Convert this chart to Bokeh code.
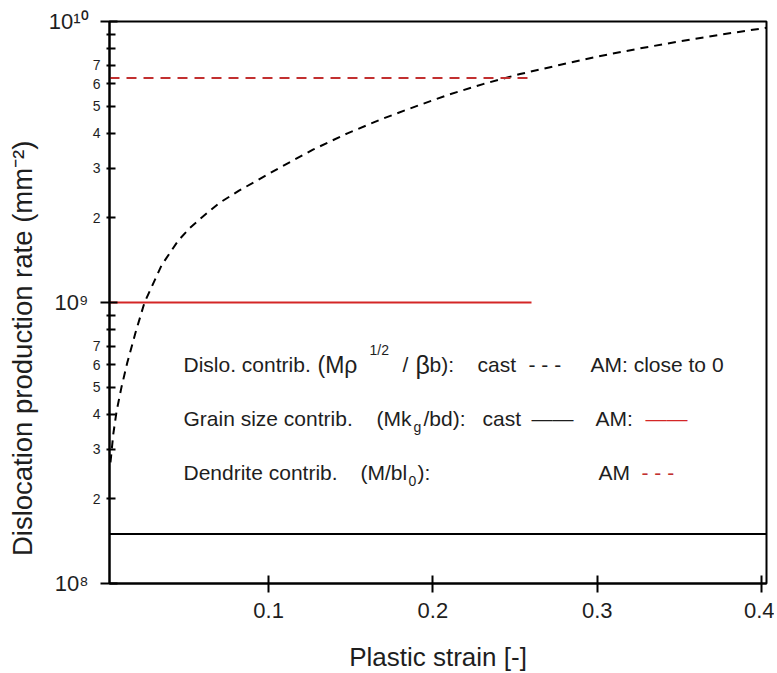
from bokeh.plotting import figure
from bokeh.models import FixedTicker, Label, Range1d, LogAxis
from bokeh.embed import file_html
from bokeh.resources import INLINE

# ---------------- data ----------------
strain_cast = [0.0038, 0.0055, 0.0075, 0.0105, 0.014, 0.019, 0.0245, 0.035, 0.045,
               0.052, 0.059, 0.07, 0.082, 0.106, 0.127, 0.148, 0.169, 0.19, 0.21,
               0.231, 0.253, 0.277, 0.30, 0.325, 0.35, 0.376, 0.403]
disloc_cast = [2.7e8, 3.4e8, 4.1e8, 5.0e8, 6.1e8, 7.8e8, 1.0e9, 1.36e9, 1.66e9,
               1.84e9, 2.0e9, 2.26e9, 2.5e9, 3.0e9, 3.5e9, 4.0e9, 4.5e9, 5.0e9, 5.5e9,
               6.0e9, 6.5e9, 7.0e9, 7.5e9, 8.0e9, 8.5e9, 9.0e9, 9.5e9]

grain_cast_strain = [0.0032, 0.403]
grain_cast_rate = [1.5e8, 1.5e8]

am_strain = [0.0032, 0.26]
grain_am_rate = [1.0e9, 1.0e9]
dendrite_am_rate = [6.3e9, 6.3e9]

x_ticks = [0.1, 0.2, 0.3, 0.4]
y_major = [1e8, 1e9, 1e10]
y_major_labels = ["10\u2078", "10\u2079", "10\u00b9\u2070"]
y_minor = [m * d for d in (1e8, 1e9) for m in range(2, 10)]
y_minor_lab_vals = [m * d for d in (1e8, 1e9) for m in range(2, 8)]
y_minor_lab_text = [str(m) for d in (1e8, 1e9) for m in range(2, 8)]

X0, X1 = 0.0032, 0.403
Y0, Y1 = 1e8, 1e10

FONT = "Liberation Sans"
TXT = "#1e1e1e"
RED = "#d42626"
RED_D = "#c23030"

p = figure(frame_width=657, frame_height=562, y_axis_type="log",
           x_range=Range1d(X0, X1), y_range=Range1d(Y0, Y1),
           output_backend="svg", toolbar_location=None,
           min_border_left=109, min_border_top=21, min_border_right=8,
           min_border_bottom=82)
p.background_fill_color = "white"
p.border_fill_color = "white"
p.xgrid.visible = False
p.ygrid.visible = False
p.outline_line_color = "black"
p.outline_line_width = 2
p.outline_line_alpha = 1

# data lines
p.line(strain_cast, disloc_cast, line_color="black", line_width=2, line_dash="8 6")
p.line(grain_cast_strain, grain_cast_rate, line_color="black", line_width=2)
p.line(am_strain, grain_am_rate, line_color=RED, line_width=2)
p.line(am_strain, dendrite_am_rate, line_color=RED_D, line_width=2, line_dash="10 7")

# x axis
xa = p.xaxis[0]
xa.axis_line_width = 2
xa.major_tick_line_width = 2
xa.major_tick_in = 8
xa.major_tick_out = 9
xa.ticker = FixedTicker(ticks=x_ticks)
xa.major_label_text_font = FONT
xa.major_label_text_font_size = "22px"
xa.major_label_text_color = TXT
xa.major_label_standoff = 10
xa.axis_label = "Plastic strain [-]"
xa.axis_label_text_font = FONT
xa.axis_label_text_font_style = "normal"
xa.axis_label_text_font_size = "26px"
xa.axis_label_text_color = TXT
xa.axis_label_standoff = 21

# y axis A (inner): axis line, decade ticks and minor ticks, no labels
ya = p.yaxis[0]
ya.axis_line_width = 2
ya.major_tick_line_width = 2
ya.minor_tick_line_width = 2
ya.major_tick_in = 8
ya.major_tick_out = 9
ya.minor_tick_in = 6
ya.minor_tick_out = 3
ya.ticker = FixedTicker(ticks=y_major, minor_ticks=y_minor)
ya.major_label_overrides = {v: "" for v in y_major}
ya.major_label_standoff = 0
ya.major_label_text_font_size = "1px"

# y axis B: labels of the minor ticks 2..7
yb = LogAxis(ticker=FixedTicker(ticks=y_minor_lab_vals),
             major_label_overrides={v: s for v, s in zip(y_minor_lab_vals, y_minor_lab_text)})
yb.axis_line_color = None
yb.major_tick_line_color = None
yb.minor_tick_line_color = None
yb.major_tick_in = 0
yb.major_tick_out = 0
yb.major_label_standoff = 0
yb.major_label_text_font = FONT
yb.major_label_text_font_size = "14px"
yb.major_label_text_color = TXT
p.add_layout(yb, "left")

# y axis C: decade labels and the axis title
yc = LogAxis(ticker=FixedTicker(ticks=y_major),
             major_label_overrides={v: s for v, s in zip(y_major, y_major_labels)})
yc.axis_line_color = None
yc.major_tick_line_color = None
yc.minor_tick_line_color = None
yc.major_tick_in = 0
yc.major_tick_out = 0
yc.major_label_standoff = 1
yc.major_label_text_font = FONT
yc.major_label_text_font_size = "22px"
yc.major_label_text_color = TXT
yc.axis_label = "Dislocation production rate (mm\u207b\u00b2)" + "\u00a0" * 12
yc.axis_label_text_font = FONT
yc.axis_label_text_font_style = "normal"
yc.axis_label_text_font_size = "27.5px"
yc.axis_label_text_color = TXT
yc.axis_label_standoff = 8
p.add_layout(yc, "left")

# -------- in-plot legend text (positions given in page pixels) --------
FL, FW, FT, FH = 109, 657, 21, 562


def px_x(px):
    return X0 + (px - FL) * (X1 - X0) / FW


def px_y(py):
    return 10 ** (10 - (py - FT) * 2.0 / FH)


def lab(txt, px, py, size=21, color=TXT):
    p.add_layout(Label(x=px_x(px), y=px_y(py), text=txt, text_font=FONT,
                       text_font_size=f"{size}px", text_color=color,
                       text_baseline="middle", text_align="left"))


R1, R2, R3 = 364, 418, 472
# row 1
lab("Dislo. contrib.", 183, R1)
lab("(M\u03c1", 317, R1, 23)
lab("1/2", 369, R1 - 15, 14)
lab("/", 402, R1)
lab("\u03b2", 415, R1, 25)
lab("b):", 429, R1)
lab("cast", 477, R1)
lab("- - -", 528, R1)
lab("AM: close to 0", 590, R1)
# row 2
lab("Grain size contrib.", 183, R2)
lab("(Mk", 376, R2)
lab("g", 413, R2 + 8, 14)
lab("/bd):", 423, R2)
lab("cast", 482, R2)
lab("\u2014\u2014", 531, R2)
lab("AM:", 595, R2)
lab("\u2014\u2014", 645, R2, color=RED)
# row 3
lab("Dendrite contrib.", 183, R3)
lab("(M/bl", 360, R3)
lab("0", 408, R3 + 8, 14)
lab("):", 417, R3)
lab("AM", 598, R3)
lab("- - -", 641, R3, color=RED_D)

open("out.html", "w").write(file_html(p, INLINE))
